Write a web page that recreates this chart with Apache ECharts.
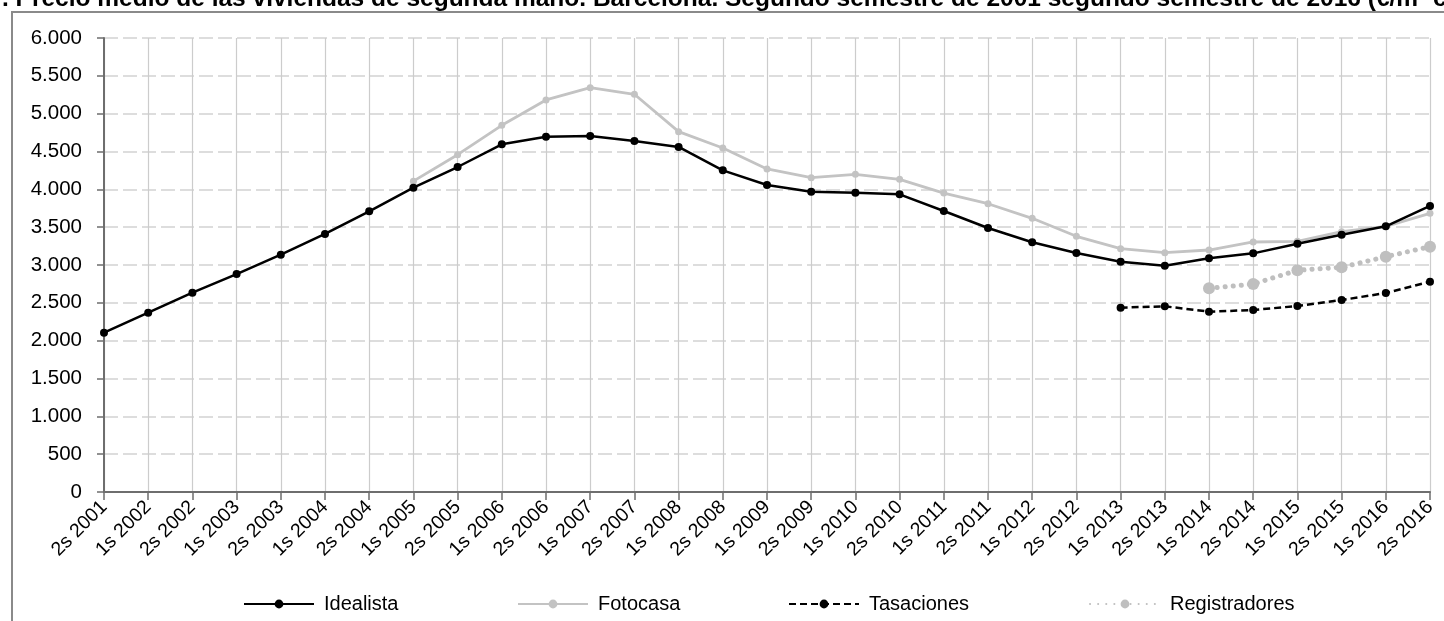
<!DOCTYPE html>
<html>
<head>
<meta charset="utf-8">
<script src="https://cdn.jsdelivr.net/npm/echarts@6/dist/echarts.min.js"></script>
<style>html,body{margin:0;padding:0;background:#fff;}#c{width:1444px;height:621px;}</style>
</head>
<body>
<div id="c"></div>
<script>
var titleText = ". Precio medio de las viviendas de segunda mano. Barcelona. Segundo semestre de 2001 segundo semestre de 2016 (€/m² construido)";
var categories = ["2s 2001","1s 2002","2s 2002","1s 2003","2s 2003","1s 2004","2s 2004","1s 2005","2s 2005","1s 2006","2s 2006","1s 2007","2s 2007","1s 2008","2s 2008","1s 2009","2s 2009","1s 2010","2s 2010","1s 2011","2s 2011","1s 2012","2s 2012","1s 2013","2s 2013","1s 2014","2s 2014","1s 2015","2s 2015","1s 2016","2s 2016"];
var idealista = [2105,2370,2634,2880,3137,3410,3709,4022,4295,4595,4696,4705,4639,4560,4251,4057,3969,3956,3934,3714,3489,3300,3158,3044,2991,3088,3154,3282,3401,3511,3780];
var fotocasa = [null,null,null,null,null,null,null,4108,4458,4846,5181,5344,5256,4762,4546,4269,4154,4198,4132,3950,3810,3617,3379,3216,3163,3198,3304,3313,3440,3511,3683];
var tasaciones = [null,null,null,null,null,null,null,null,null,null,null,null,null,null,null,null,null,null,null,null,null,null,null,2436,2454,2383,2405,2458,2537,2630,2779];
var registradores = [null,null,null,null,null,null,null,null,null,null,null,null,null,null,null,null,null,null,null,null,null,null,null,null,null,2692,2749,2930,2970,3110,3242];
var seriesNames = ["Idealista","Fotocasa","Tasaciones","Registradores"];

var FONT = "'Liberation Sans',Arial,sans-serif";
var chart = echarts.init(document.getElementById('c'), null, {renderer:'canvas'});
function fmt(v){ return String(v).replace(/\B(?=(\d{3})+(?!\d))/g,'.'); }
function leg(name, left){
  return {data:[name], left:left, top:594, padding:0, itemWidth:70, itemHeight:11, itemGap:0,
    textStyle:{fontFamily:FONT, fontSize:20, color:'#000', padding:[0,0,0,5]}, selectedMode:false};
}
chart.setOption({
  animation:false,
  backgroundColor:'#fff',
  title:{text:titleText, left:-3, top:-18, textStyle:{fontFamily:FONT, fontSize:24.5, fontWeight:'bold', color:'#000'}},
  graphic:[{type:'rect', shape:{x:12, y:12, width:1600, height:800}, style:{fill:'none', stroke:'#8a8a8a', lineWidth:2}, silent:true}],
  legend:[leg(seriesNames[0],243), leg(seriesNames[1],517), leg(seriesNames[2],788), leg(seriesNames[3],1089)],
  grid:{left:104, right:14, top:38, bottom:129, containLabel:false},
  xAxis:{type:'category', data:categories, boundaryGap:false,
    axisLine:{lineStyle:{color:'#6e6e6e', width:2}},
    axisTick:{show:true, length:8, alignWithLabel:true, lineStyle:{color:'#6e6e6e', width:1.5}},
    axisLabel:{rotate:45, interval:0, fontFamily:FONT, fontSize:19.5, color:'#000', margin:12},
    splitLine:{show:true, interval:0, lineStyle:{color:'#cccccc', width:1.2}}},
  yAxis:{type:'value', min:0, max:6000, interval:500,
    axisLine:{show:true, lineStyle:{color:'#6e6e6e', width:2}},
    axisTick:{show:true, length:7, lineStyle:{color:'#6e6e6e', width:1.5}},
    axisLabel:{formatter:fmt, fontFamily:FONT, fontSize:20.5, color:'#000', margin:22},
    splitLine:{show:true, lineStyle:{color:'#d2d2d2', width:1.5, type:[14,5]}}},
  series:[
    {name:seriesNames[0], type:'line', data:idealista, symbol:'circle', symbolSize:8, z:4,
      lineStyle:{color:'#000', width:2.5}, itemStyle:{color:'#000'}},
    {name:seriesNames[1], type:'line', data:fotocasa, symbol:'circle', symbolSize:7, z:3,
      lineStyle:{color:'#c3c3c3', width:2.8}, itemStyle:{color:'#c3c3c3'}},
    {name:seriesNames[2], type:'line', data:tasaciones, symbol:'circle', symbolSize:8, z:4,
      lineStyle:{color:'#000', width:2.5, type:[7,4]}, itemStyle:{color:'#000'}},
    {name:seriesNames[3], type:'line', data:registradores, symbol:'circle', symbolSize:12, z:3,
      lineStyle:{color:'#bfbfbf', width:5, type:[0.1,8], cap:'round'}, itemStyle:{color:'#bfbfbf'}}
  ]
});
</script>
</body>
</html>
